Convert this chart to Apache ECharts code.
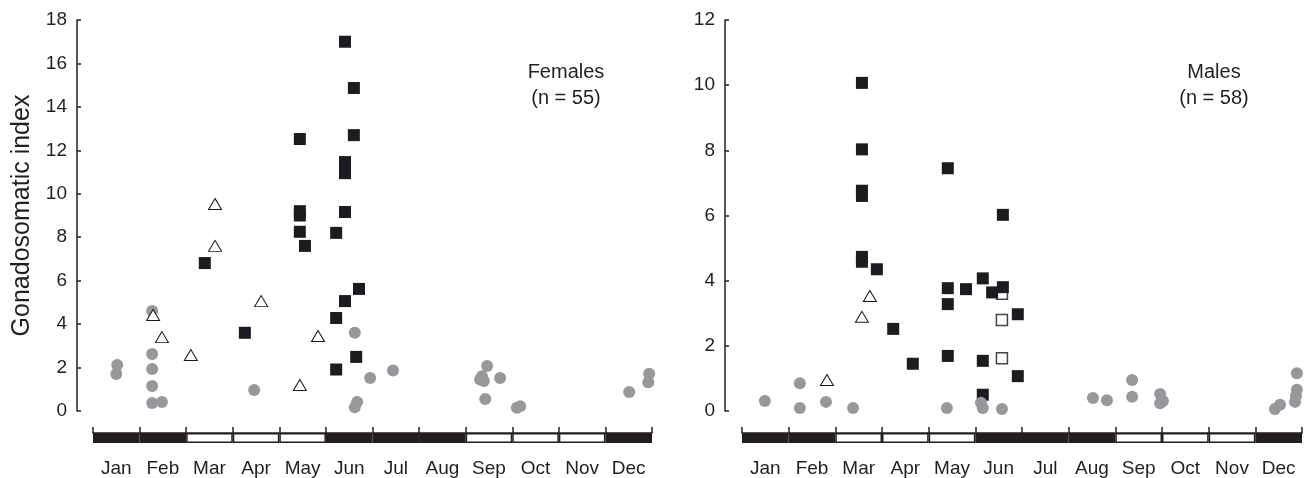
<!DOCTYPE html>
<html>
<head>
<meta charset="utf-8">
<script src="https://cdn.jsdelivr.net/npm/echarts@6/dist/echarts.min.js"></script>
<style>
html,body{margin:0;padding:0;background:#fff;}
#chart{width:1310px;height:478px;}
</style>
</head>
<body>
<div id="chart"></div>
<script>
// ---- Data (x = position within the year in month units, 0 = 1 Jan, 12 = 31 Dec; y = gonadosomatic index)
const months = ['Jan','Feb','Mar','Apr','May','Jun','Jul','Aug','Sep','Oct','Nov','Dec'];
const seasonDark = [1,1,0,0,0,1,1,1,0,0,0,1];

const femaleTicks = [0,2,4,6,8,10,12,14,16,18];
const maleTicks = [0,2,4,6,8,10,12];

const femaleCircles = [
  [0.52,2.12],[0.50,1.70],
  [1.27,4.60],[1.27,2.62],[1.27,1.93],[1.27,1.15],[1.27,0.37],[1.48,0.41],
  [3.46,0.97],
  [5.62,3.60],[5.95,1.52],[5.67,0.42],[5.62,0.17],
  [6.44,1.86],
  [8.46,2.07],[8.31,1.45],[8.35,1.60],[8.39,1.38],[8.74,1.52],[8.42,0.55],
  [9.10,0.15],[9.17,0.22],
  [11.51,0.87],[11.94,1.72],[11.92,1.32]
];
const femaleTriangles = [
  [2.62,9.53],[2.62,7.60],[1.29,4.42],[1.48,3.40],[2.10,2.58],[3.61,5.06],[4.44,1.20],[4.83,3.45]
];
const femaleSquares = [
  [2.40,6.81],[3.26,3.60],[4.55,7.60],[4.44,12.52],[4.44,9.20],[4.44,9.00],[4.44,8.25],
  [5.41,17.00],[5.60,14.87],[5.60,12.70],[5.41,11.46],[5.41,10.95],[5.41,9.16],[5.22,8.20],
  [5.71,5.62],[5.41,5.06],[5.22,4.28],[5.65,2.49],[5.22,1.91]
];

const maleCircles = [
  [0.49,0.31],[1.24,0.85],[1.24,0.09],[1.80,0.28],[2.38,0.09],[4.39,0.09],
  [5.12,0.25],[5.16,0.09],[5.57,0.06],
  [7.52,0.40],[7.82,0.33],[8.36,0.95],[8.36,0.44],[8.96,0.52],[8.96,0.24],[9.02,0.31],
  [11.42,0.06],[11.53,0.19],[11.89,1.16],[11.89,0.65],[11.87,0.46],[11.85,0.28]
];
const maleTriangles = [
  [1.82,0.95],[2.57,2.89],[2.74,3.53]
];
const maleSquares = [
  [2.57,10.07],[2.57,8.03],[2.57,6.76],[2.57,6.60],[2.57,4.73],[2.57,4.58],[2.89,4.35],
  [3.24,2.52],[3.66,1.45],
  [4.41,7.45],[4.41,3.77],[4.41,3.28],[4.41,1.69],[4.80,3.74],
  [5.16,4.07],[5.16,1.54],[5.16,0.50],[5.36,3.64],
  [5.59,6.02],[5.59,3.80],[5.91,2.97],[5.91,1.07]
];
const maleOpenSquares = [
  [5.57,3.60],[5.57,2.79],[5.57,1.62]
];

// ---- Styling / layout
const FONT = '"Liberation Sans", Arial, Helvetica, sans-serif';
const TXT = '#231f20';
const AX = '#231f20';
const panels = [
  {left:93, width:559, axisGap:16, max:18, ticks:femaleTicks, name:'Gonadosomatic index',
   label:'Females\n(n = 55)', labelX:561, circles:femaleCircles, tris:femaleTriangles, squares:femaleSquares, open:[]},
  {left:742, width:560, axisGap:17, max:12, ticks:maleTicks, name:'',
   label:'Males\n(n = 58)', labelX:1209, circles:maleCircles, tris:maleTriangles, squares:maleSquares, open:maleOpenSquares}
];

const grid=[], xAxis=[], yAxis=[], series=[], title=[];
panels.forEach((p, i) => {
  const gi = grid.length;
  const pxPerMonth = p.width / 12;
  // scatter grid starts at the y-axis line, which sits a little left of the month bar
  grid.push({left:p.left - p.axisGap, width:p.width + p.axisGap, top:20, height:391});
  grid.push({left:p.left, width:p.width, top:433, height:10});
  const xs = xAxis.length;
  xAxis.push({gridIndex:gi, type:'value', min:-p.axisGap / pxPerMonth, max:12, show:false});
  const ys = yAxis.length;
  yAxis.push({gridIndex:gi, type:'value', min:0, max:p.max, interval:2,
    name:p.name, nameLocation:'middle', nameGap:42,
    nameTextStyle:{fontFamily:FONT, fontSize:25, color:TXT},
    axisLine:{show:true, onZero:false, lineStyle:{color:AX, width:1.5}},
    axisTick:{show:true, inside:true, length:4, lineStyle:{color:AX, width:1.5}},
    axisLabel:{fontFamily:FONT, fontSize:19, color:TXT, margin:10},
    splitLine:{show:false}});
  // month bar axes
  xAxis.push({gridIndex:gi+1, type:'category', data:months, position:'top', show:true, z:5,
    axisLine:{show:true, onZero:false, lineStyle:{color:AX, width:1.5}},
    axisTick:{show:true, inside:false, length:6, interval:0, alignWithLabel:false, lineStyle:{color:AX, width:1.5}},
    axisLabel:{show:false}});
  const xb = xAxis.length;
  xAxis.push({gridIndex:gi+1, type:'category', data:months, position:'bottom',
    axisLine:{show:false, onZero:false}, axisTick:{show:false},
    axisLabel:{fontFamily:FONT, fontSize:19, color:TXT, margin:16, interval:0}});
  const yb = yAxis.length;
  yAxis.push({gridIndex:gi+1, type:'value', min:0, max:1, show:false});

  series.push({type:'bar', xAxisIndex:xb, yAxisIndex:yb, barWidth:'100%', barCategoryGap:0,
    silent:true, z:1,
    data: seasonDark.map(d => ({value:1, itemStyle:{color: d ? AX : '#ffffff', borderColor:AX, borderWidth:1.5}}))});

  series.push({type:'scatter', xAxisIndex:xs, yAxisIndex:ys, symbol:'rect', symbolSize:11, z:2,
    itemStyle:{color:'#ffffff', borderColor:'#444', borderWidth:1.5, opacity:1}, data:p.open});
  series.push({type:'scatter', xAxisIndex:xs, yAxisIndex:ys, symbol:'rect', symbolSize:12, z:3,
    itemStyle:{color:'#1c1c20', opacity:1}, data:p.squares});
  series.push({type:'scatter', xAxisIndex:xs, yAxisIndex:ys, symbol:'circle', symbolSize:12, z:4,
    itemStyle:{color:'#98989c', opacity:1}, data:p.circles});
  series.push({type:'scatter', xAxisIndex:xs, yAxisIndex:ys, symbol:'triangle', symbolSize:[13,11], z:5,
    itemStyle:{color:'#ffffff', borderColor:'#1c1c20', borderWidth:1, opacity:1}, data:p.tris});

  title.push({text:p.label, left:p.labelX, top:54, textAlign:'center',
    textStyle:{fontFamily:FONT, fontSize:20, fontWeight:'normal', color:TXT, lineHeight:26}});
});

const chart = echarts.init(document.getElementById('chart'), null, {renderer:'canvas'});
chart.setOption({
  animation:false,
  backgroundColor:'#ffffff',
  title, grid, xAxis, yAxis, series
});
</script>
</body>
</html>
